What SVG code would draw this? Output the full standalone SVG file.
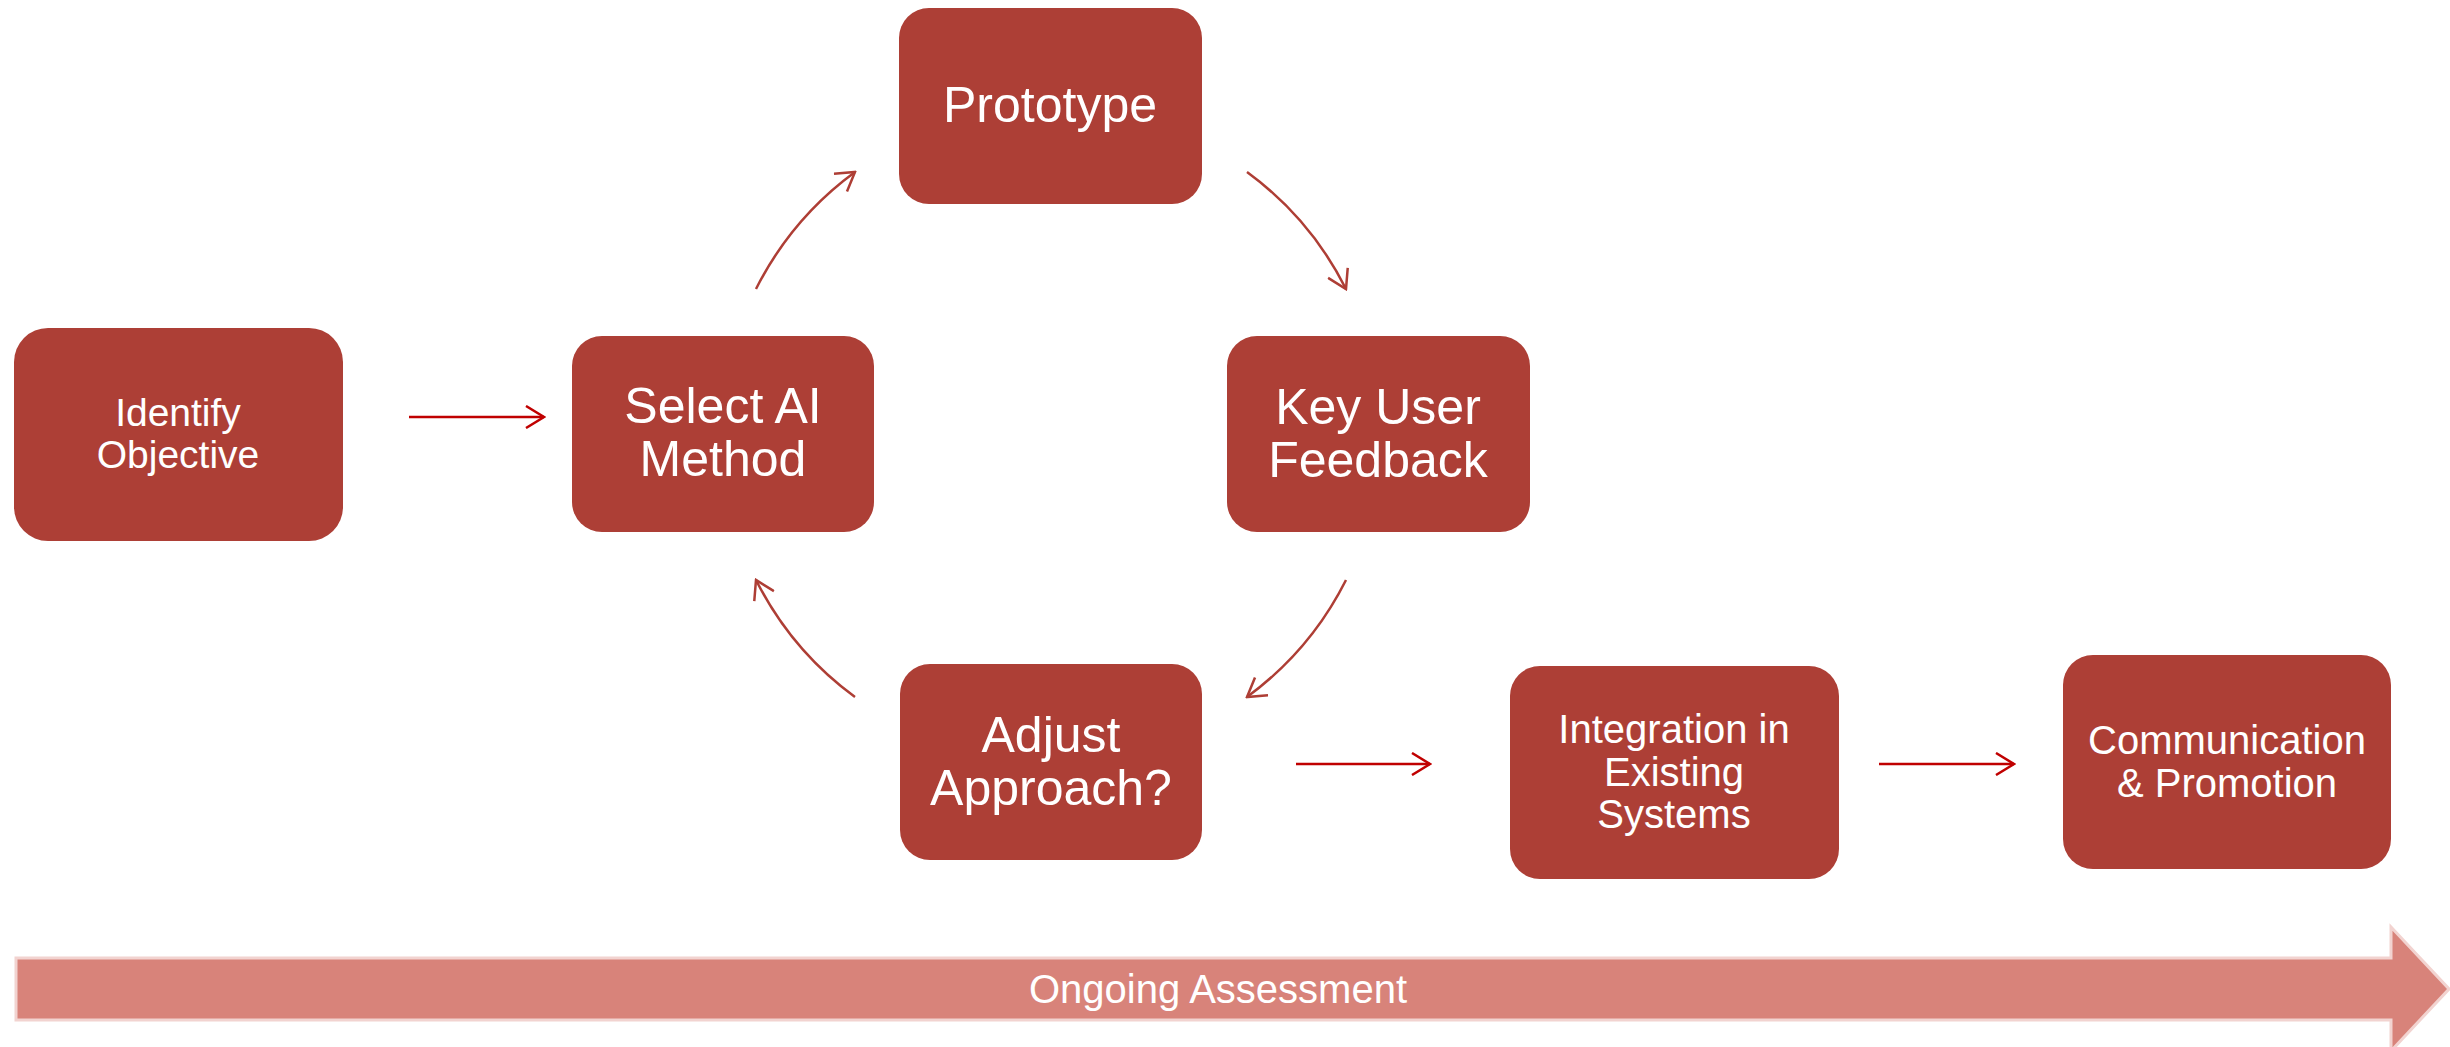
<svg xmlns="http://www.w3.org/2000/svg" width="2450" height="1047" viewBox="0 0 2450 1047">
<style>
.box{fill:#AD3F36;}
.lbl{font-family:"Liberation Sans",Arial,sans-serif;fill:#FFFFFF;text-anchor:middle;}
.big{font-size:50px;}
.sm{font-size:40px;}
.straight{fill:none;stroke:#C00000;stroke-width:2.5;}
.curve{fill:none;stroke:#AE3E35;stroke-width:2.5;}
</style>
<defs>
<marker id="headRed" viewBox="0 0 22 24" refX="20" refY="12" markerWidth="22" markerHeight="24" markerUnits="userSpaceOnUse" orient="auto">
<path d="M2,1 L20,12 L2,23" fill="none" stroke="#C00000" stroke-width="2.5"/>
</marker>
<marker id="headBrown" viewBox="0 0 22 24" refX="20" refY="12" markerWidth="22" markerHeight="24" markerUnits="userSpaceOnUse" orient="auto">
<path d="M2,1 L20,12 L2,23" fill="none" stroke="#AE3E35" stroke-width="2.5"/>
</marker>
</defs>
<rect width="2450" height="1047" fill="#FFFFFF"/>

<g id="ongoing-assessment">
<polygon points="16,958 2391,958 2391,927 2449,989 2391,1051 2391,1020 16,1020" fill="#D8837A" stroke="#F2D3D0" stroke-width="3"/>
<text class="lbl sm" x="1218" y="1003">Ongoing Assessment</text>
</g>

<g id="connectors">
<path class="straight" d="M409,417 L544,417" marker-end="url(#headRed)"/>
<path class="straight" d="M1296,764 L1430,764" marker-end="url(#headRed)"/>
<path class="straight" d="M1879,764 L2014,764" marker-end="url(#headRed)"/>
<path class="curve" d="M756,289 A328,328 0 0 1 855,172" marker-end="url(#headBrown)"/>
<path class="curve" d="M1247,172 A328,328 0 0 1 1346,289" marker-end="url(#headBrown)"/>
<path class="curve" d="M1346,580 A328,328 0 0 1 1247,697" marker-end="url(#headBrown)"/>
<path class="curve" d="M855,697 A328,328 0 0 1 756,580" marker-end="url(#headBrown)"/>
</g>

<g id="identify-objective">
<rect class="box" x="14" y="328" width="329" height="213" rx="34"/>
<text class="lbl" font-size="39" x="178" y="426">Identify</text>
<text class="lbl" font-size="39" x="178" y="468">Objective</text>
</g>

<g id="select-ai-method">
<rect class="box" x="572" y="336" width="302" height="196" rx="30"/>
<text class="lbl big" x="723" y="423">Select AI</text>
<text class="lbl big" x="723" y="476">Method</text>
</g>

<g id="prototype">
<rect class="box" x="899" y="8" width="303" height="196" rx="30"/>
<text class="lbl big" x="1050" y="122">Prototype</text>
</g>

<g id="key-user-feedback">
<rect class="box" x="1227" y="336" width="303" height="196" rx="30"/>
<text class="lbl big" x="1378" y="424">Key User</text>
<text class="lbl big" x="1378" y="477">Feedback</text>
</g>

<g id="adjust-approach">
<rect class="box" x="900" y="664" width="302" height="196" rx="30"/>
<text class="lbl big" x="1051" y="752">Adjust</text>
<text class="lbl big" x="1051" y="805">Approach?</text>
</g>

<g id="integration">
<rect class="box" x="1510" y="666" width="329" height="213" rx="30"/>
<text class="lbl sm" x="1674" y="743">Integration in</text>
<text class="lbl sm" x="1674" y="786">Existing</text>
<text class="lbl sm" x="1674" y="828">Systems</text>
</g>

<g id="communication-promotion">
<rect class="box" x="2063" y="655" width="328" height="214" rx="30"/>
<text class="lbl sm" x="2227" y="754">Communication</text>
<text class="lbl sm" x="2227" y="797">&amp; Promotion</text>
</g>
</svg>
